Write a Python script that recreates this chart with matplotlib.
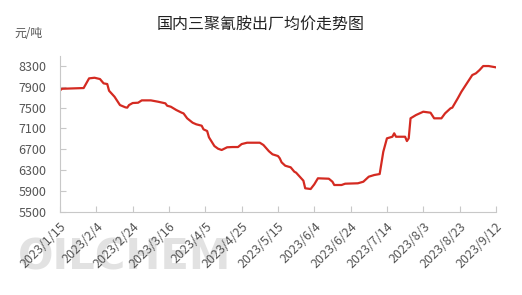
import numpy as np
import pandas as pd
import matplotlib
matplotlib.use("Agg")
import matplotlib.pyplot as plt
import matplotlib.dates as mdates

plt.rcParams['font.family'] = ['Noto Sans CJK SC', 'DejaVu Sans']

# price points (yuan / ton)
dates = ['2023-01-15', '2023-01-16', '2023-01-28', '2023-01-31', '2023-02-03',
         '2023-02-06', '2023-02-08', '2023-02-10', '2023-02-11', '2023-02-14',
         '2023-02-17', '2023-02-20', '2023-02-21', '2023-02-22', '2023-02-24',
         '2023-02-27', '2023-03-01', '2023-03-06', '2023-03-10', '2023-03-14',
         '2023-03-15', '2023-03-17', '2023-03-20', '2023-03-23', '2023-03-24',
         '2023-03-26', '2023-03-29', '2023-03-31', '2023-04-03', '2023-04-04',
         '2023-04-06', '2023-04-07', '2023-04-10', '2023-04-12', '2023-04-14',
         '2023-04-17', '2023-04-20', '2023-04-23', '2023-04-25', '2023-04-28',
         '2023-05-05', '2023-05-07', '2023-05-10', '2023-05-12', '2023-05-15',
         '2023-05-16', '2023-05-17', '2023-05-19', '2023-05-22', '2023-05-24',
         '2023-05-25', '2023-05-27', '2023-05-29', '2023-05-30', '2023-06-02',
         '2023-06-04', '2023-06-06', '2023-06-12', '2023-06-14', '2023-06-15',
         '2023-06-19', '2023-06-21', '2023-06-28', '2023-07-01', '2023-07-04',
         '2023-07-07', '2023-07-10', '2023-07-12', '2023-07-14', '2023-07-17',
         '2023-07-18', '2023-07-19', '2023-07-24', '2023-07-25', '2023-07-26',
         '2023-07-27', '2023-07-30', '2023-08-03', '2023-08-07', '2023-08-09',
         '2023-08-13', '2023-08-15', '2023-08-18', '2023-08-19', '2023-08-22',
         '2023-08-24', '2023-08-27', '2023-08-30', '2023-09-01', '2023-09-03',
         '2023-09-05', '2023-09-08', '2023-09-12']
prices = [7830, 7863, 7877, 8063, 8075,
          8050, 7967, 7954, 7825, 7710,
          7550, 7506, 7500, 7550, 7589,
          7595, 7640, 7640, 7614, 7583,
          7537, 7518, 7455, 7403, 7390,
          7295, 7211, 7180, 7153, 7083,
          7051, 6930, 6762, 6711, 6686,
          6738, 6743, 6743, 6800, 6826,
          6826, 6782, 6663, 6603, 6570,
          6526, 6449, 6384, 6353, 6269,
          6250, 6173, 6096, 5950, 5936,
          6026, 6142, 6134, 6076, 6013,
          6013, 6038, 6046, 6076, 6173,
          6205, 6224, 6653, 6910, 6941,
          7007, 6941, 6941, 6858, 6910,
          7295, 7358, 7422, 7403, 7295,
          7295, 7390, 7487, 7500, 7679,
          7806, 7967, 8127, 8160, 8223,
          8300, 8300, 8275]

yticks = [5500, 5900, 6300, 6700, 7100, 7500, 7900, 8300]
xtick_dates = pd.date_range('2023-01-15', '2023-09-12', freq='20D')

x = pd.to_datetime(dates)

fig = plt.figure(figsize=(5.22, 2.95), dpi=100)

# watermark, behind everything
fig.text(0.035, 0.128, 'OILCHEM', ha='left', va='center', fontsize=30,
         fontweight='bold', color='#e2e2e2', family='DejaVu Sans', zorder=-5)

ax = fig.add_axes([0.115, 0.2824, 0.835, 0.529])
ax.patch.set_alpha(0)

ax.plot(x, prices, color='#d42a21', lw=1.6, solid_joinstyle='round')

ax.set_ylim(5500, 8500)
ax.set_yticks(yticks)
ax.set_xlim(pd.Timestamp('2023-01-15'), pd.Timestamp('2023-09-12'))
ax.set_xticks(xtick_dates)
ax.set_xticklabels(['{}/{}/{}'.format(d.year, d.month, d.day) for d in xtick_dates],
                   rotation=45, ha='right', rotation_mode='anchor')

for s in ['top', 'right']:
    ax.spines[s].set_visible(False)
ax.spines['left'].set_color('#c8c8c8')
ax.spines['bottom'].set_color('#c8c8c8')
ax.tick_params(axis='both', direction='in', length=4, color='#c8c8c8',
               labelsize=9, labelcolor='#555555')
ax.tick_params(axis='y', pad=10)
ax.tick_params(axis='x', pad=6)

fig.text(0.5, 0.915, '国内三聚氰胺出厂均价走势图', ha='center', va='center',
         fontsize=11.5, color='#222222')
fig.text(0.027, 0.885, '元/吨', ha='left', va='center', fontsize=8.5, color='#555555')

fig.savefig('out.png', dpi=100)
